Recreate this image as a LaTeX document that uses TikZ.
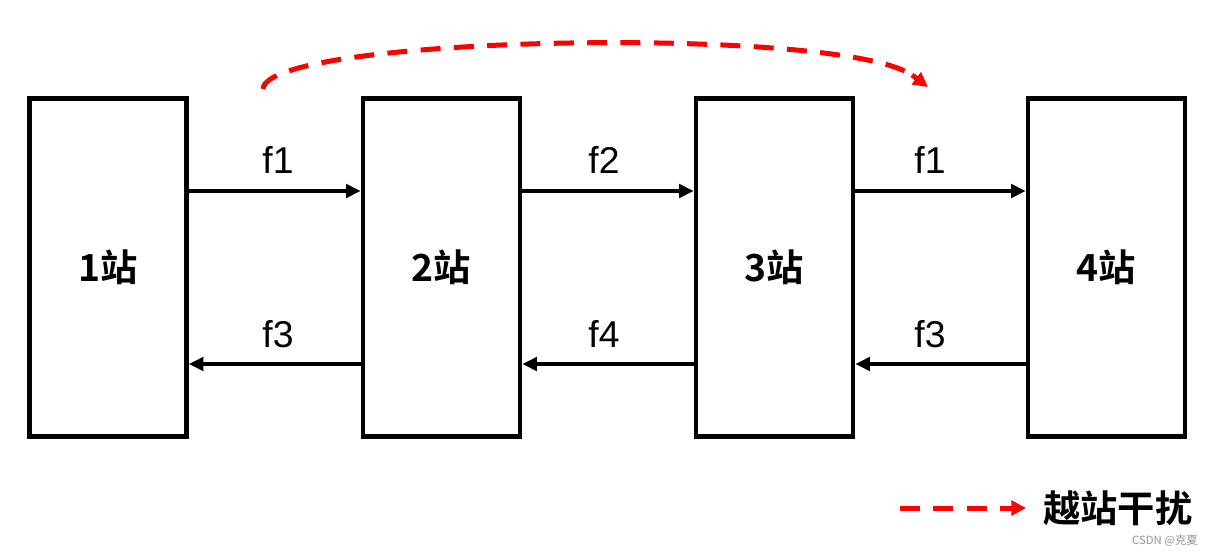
\documentclass[tikz,border=0pt]{standalone}
\usepackage{fontspec}
\setmainfont{Liberation Sans}
\newfontfamily\cjk{Noto Sans CJK SC}[BoldFont={Noto Sans CJK SC Bold}]
\usetikzlibrary{arrows.meta}
\definecolor{legred}{RGB}{255,0,0}
\definecolor{wmgray}{RGB}{150,150,150}
\begin{document}
\begin{tikzpicture}[x=0.75pt,y=-0.75pt,
 station/.style={draw,line width=3.4pt,minimum width=117.75pt,minimum height=253.5pt,inner sep=0pt,font=\cjk\bfseries\fontsize{28}{30}\selectfont},
 flow/.style={line width=3pt,-{Triangle[length=11pt,width=10pt]}},
 flabel/.style={font=\fontsize{28}{30}\selectfont,inner sep=0pt},
 redtip/.style={-{Triangle[length=11pt,width=11pt]}},
 jump/.style={draw=legred,line width=3.75pt,dash pattern=on 15pt off 10pt}
]
\fill[white] (0,0) rectangle (1214,557);
\useasboundingbox (0,0) rectangle (1214,557);
\node[station] (b1) at (108,267.5) {1站};
\node[station] (b2) at (441.5,267.5) {2站};
\node[station] (b3) at (774.5,267.5) {3站};
\node[station] (b4) at (1106.5,267.5) {4站};
\coordinate (top) at (0,191);
\coordinate (bot) at (0,364);
\draw[flow] (b1.east |- top) -- (b2.west |- top);
\draw[flow] (b2.east |- top) -- (b3.west |- top);
\draw[flow] (b3.east |- top) -- (b4.west |- top);
\draw[flow] (b2.west |- bot) -- (b1.east |- bot);
\draw[flow] (b3.west |- bot) -- (b2.east |- bot);
\draw[flow] (b4.west |- bot) -- (b3.east |- bot);
\node[flabel] (l1) at (278,160) {f1};
\node[flabel] (l2) at (604,160) {f2};
\node[flabel] (l3) at (930,160) {f1};
\node[flabel] (l4) at (278,334) {f3};
\node[flabel] (l5) at (604,334) {f4};
\node[flabel] (l6) at (930,334) {f3};
\coordinate (cs) at (263,89);
\coordinate (ce) at (928,87);
\coordinate (tb) at (912,75);
\draw[jump,shorten >=14pt] (cs) .. controls (266,35) and (845,25) .. (ce);
\draw[legred,line width=3.75pt,redtip] (tb) -- (ce);
\coordinate (ls) at (900,508);
\coordinate (le) at (1026,508);
\draw[jump,redtip] (ls) -- (le);
\node[font=\cjk\bfseries\fontsize{28}{30}\selectfont,anchor=west,inner sep=0pt] (lt) at (1043,508) {越站干扰};
\node[font=\cjk\fontsize{8.5}{10}\selectfont,text=wmgray,anchor=east,inner sep=0pt] (wm) at (1198,541) {CSDN @克夏};
\end{tikzpicture}
\end{document}
